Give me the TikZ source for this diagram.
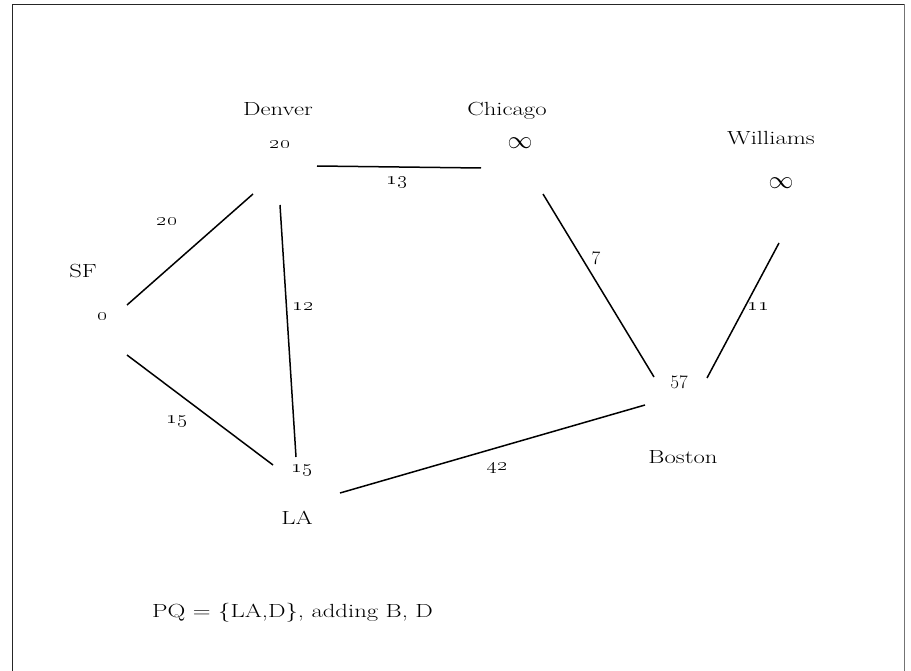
\documentclass[tikz,border=0pt]{standalone}
\usepackage{graphicx}
\newcommand\wtxt[1]{\scalebox{1.3}[1]{#1}}
\newcommand\onum[1]{\wtxt{\oldstylenums{#1}}}
\begin{document}
\begin{tikzpicture}[x=1pt,y=-1pt,
  lbl/.style={font=\fontsize{19}{22}\selectfont, inner sep=0pt, anchor=base},
  num/.style={font=\fontsize{19}{22}\selectfont, inner sep=0pt, anchor=base},
  inf/.style={font=\fontsize{24}{28}\selectfont, inner sep=0pt, anchor=center},
  edge/.style={line width=1.5pt, black}]
\useasboundingbox (0,0) rectangle (911,671);
% frame
\draw[line width=1.6pt, black!85] (12.5,671) -- (12.5,4.5) -- (904.5,4.5);
\draw[line width=1.6pt, black!55] (904.5,4.5) -- (904.5,671);
% city names
\node[lbl] (denver)   at (278,116) {\wtxt{Denver}};
\node[lbl] (chicago)  at (507,116) {\wtxt{Chicago}};
\node[lbl] (williams) at (771,145) {\wtxt{Williams}};
\node[lbl] (sf)       at (83,278)  {\wtxt{SF}};
\node[lbl] (la)       at (297,524) {\wtxt{LA}};
\node[lbl] (boston)   at (683,463) {\wtxt{Boston}};
% distances
\node[num] (dD) at (280,149) {\onum{20}};
\node[inf] (dC) at (520,143) {$\infty$};
\node[inf] (dW) at (781,183) {$\infty$};
\node[num] (dS) at (103,320) {\onum{0}};
\node[num] (dL) at (302,472) {\onum{15}};
\node[num] (dB) at (679,388) {57};
% connector end points
\coordinate (sfA) at (127,305);
\coordinate (sfB) at (127,355);
\coordinate (deA) at (253,194);
\coordinate (deB) at (280,205);
\coordinate (deC) at (317,166);
\coordinate (chA) at (481,168);
\coordinate (chB) at (543,194);
\coordinate (laA) at (296,457);
\coordinate (laB) at (273,465);
\coordinate (laC) at (340,493);
\coordinate (boA) at (654,377);
\coordinate (boB) at (645,405);
\coordinate (boC) at (707,378);
\coordinate (wiA) at (779,243);
% edges
\draw[edge] (sfA) -- (deA);
\draw[edge] (deC) -- (chA);
\draw[edge] (deB) -- (laA);
\draw[edge] (sfB) -- (laB);
\draw[edge] (laC) -- (boB);
\draw[edge] (chB) -- (boA);
\draw[edge] (boC) -- (wiA);
% edge weights
\node[num] (wSD) at (167,226) {\onum{20}};
\node[num] (wDC) at (397,185) {\onum{13}};
\node[num] (wDL) at (303,311) {\onum{12}};
\node[num] (wSL) at (177,423) {\onum{15}};
\node[num] (wLB) at (497,470) {\onum{42}};
\node[num] (wCB) at (596,265) {7};
\node[num] (wBW) at (758,311) {\onum{11}};
% caption
\node[lbl, anchor=base west] (pq) at (152,617) {\wtxt{PQ = \{LA,D\}, adding B, D}};
\end{tikzpicture}
\end{document}
